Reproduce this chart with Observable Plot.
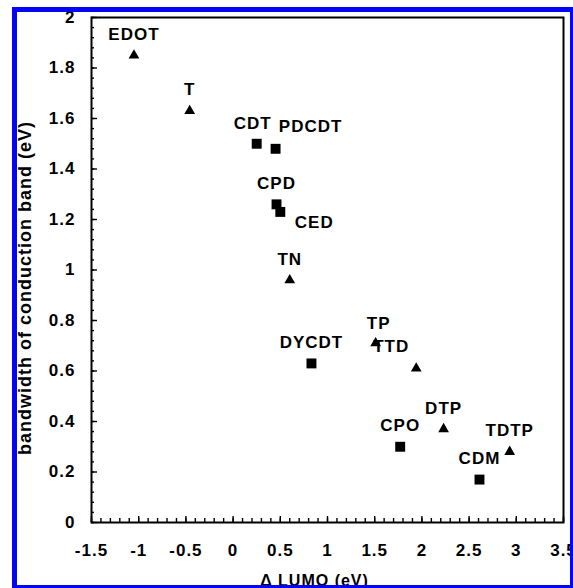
<!DOCTYPE html>
<html>
<head>
<meta charset="utf-8">
<script src="https://cdn.jsdelivr.net/npm/d3@7"></script>
<script src="https://cdn.jsdelivr.net/npm/@observablehq/plot@0.6"></script>
<style>
  html, body { margin: 0; padding: 0; background: #fff; overflow: hidden; }
  #wrap { position: relative; width: 573px; height: 588px; }
  #edge { position: absolute; left: 12px; top: 7px; width: 563px; height: 583px;
          box-sizing: border-box; border: 5px solid #0505f5; pointer-events: none; }
</style>
</head>
<body>
<div id="wrap"><div id="chart"></div><div id="edge"></div></div>
<script>
// Polymer/monomer units: LUMO offset vs. conduction-band width
const names     = ["EDOT", "T", "CDT", "PDCDT", "CPD", "CED", "TN", "DYCDT", "TP", "TTD", "CPO", "DTP", "TDTP", "CDM"];
const deltaLumo = [-1.05, -0.46, 0.25, 0.45, 0.46, 0.50, 0.60, 0.83, 1.51, 1.94, 1.77, 2.23, 2.93, 2.61];
const bandwidth = [1.85, 1.63, 1.50, 1.48, 1.26, 1.23, 0.96, 0.63, 0.71, 0.61, 0.30, 0.37, 0.28, 0.17];
const family    = ["triangle", "triangle", "square", "square", "square", "square", "triangle",
                   "square", "triangle", "triangle", "square", "triangle", "triangle", "square"];

const xTicks = [-1.5, -1, -0.5, 0, 0.5, 1, 1.5, 2, 2.5, 3, 3.5];
const yTicks = [0, 0.2, 0.4, 0.6, 0.8, 1, 1.2, 1.4, 1.6, 1.8, 2];
const xMinor = d3.range(-15, 36).map(i => i / 10);
const yMinor = d3.range(0, 51).map(i => i * 0.04);

// label nudges in pixels (default: centred above the marker)
const labelNudge = { CDT: [-4, -20], PDCDT: [35, -22], CED: [34, 11], TTD: [-25, -22], TP: [3, -20] };

const W = 573, H = 588;
const M = { top: 17, right: 10, bottom: 66, left: 91 };
const innerW = W - M.left - M.right;
const innerH = H - M.top - M.bottom;

const rows = names.map((name, i) => ({ name, x: deltaLumo[i], y: bandwidth[i], kind: family[i] }));
const fmt = d => String(Math.round(d * 10) / 10);

// short inward ticks: full-frame tick marks trimmed by insets down to `len` pixels
const inwardX = (values, len) =>
  Plot.tickX(values, { x: d => d, insetTop: innerH - len, stroke: "black", strokeWidth: 1.4 });
const inwardY = (values, len) =>
  Plot.tickY(values, { y: d => d, insetRight: innerW - len, stroke: "black", strokeWidth: 1.4 });

const labelMarks = rows.map(r => {
  const [dx, dy] = labelNudge[r.name] || [0, -21];
  return Plot.text([r], { x: "x", y: "y", text: "name", dx, dy, fontSize: 17, fontWeight: "bold", fill: "black" });
});

const chart = Plot.plot({
  width: W,
  height: H,
  marginTop: M.top,
  marginRight: M.right,
  marginBottom: M.bottom,
  marginLeft: M.left,
  style: { fontFamily: "'Liberation Sans', Arial, sans-serif", fontWeight: "bold", letterSpacing: "1px", background: "white", color: "black" },
  x: { domain: [-1.5, 3.5] },
  y: { domain: [0, 2] },
  marks: [
    // inward minor and major ticks
    inwardX(xMinor, 4),
    inwardX(xTicks, 6),
    inwardY(yMinor, 3),
    inwardY(yTicks, 6),
    // tick labels
    Plot.axisX(xTicks, { tickSize: 0, tickPadding: 21, tickFormat: fmt, fontSize: 17, label: null }),
    Plot.axisY(yTicks, { tickSize: 0, tickPadding: 16, tickFormat: fmt, fontSize: 17, label: null }),
    Plot.frame({ stroke: "black", strokeWidth: 2 }),
    // axis titles
    Plot.text(["\u0394 LUMO (eV)"], { frameAnchor: "bottom", textAnchor: "middle", dx: -13, dy: 63, lineAnchor: "bottom", fontSize: 16, fontWeight: "bold" }),
    Plot.text(["bandwidth of conduction band (eV)"], { frameAnchor: "left", textAnchor: "middle", rotate: -90, dx: -61, dy: 18, lineAnchor: "bottom", fontSize: 18, fontWeight: "bold" }),
    // markers
    Plot.dot(rows.filter(r => r.kind === "triangle"), { x: "x", y: "y", symbol: "triangle", r: 4, fill: "black", stroke: "none" }),
    Plot.dot(rows.filter(r => r.kind === "square"), { x: "x", y: "y", symbol: "square", r: 5.6, fill: "black", stroke: "none" }),
    ...labelMarks
  ]
});

document.getElementById("chart").appendChild(chart);
</script>
</body>
</html>
